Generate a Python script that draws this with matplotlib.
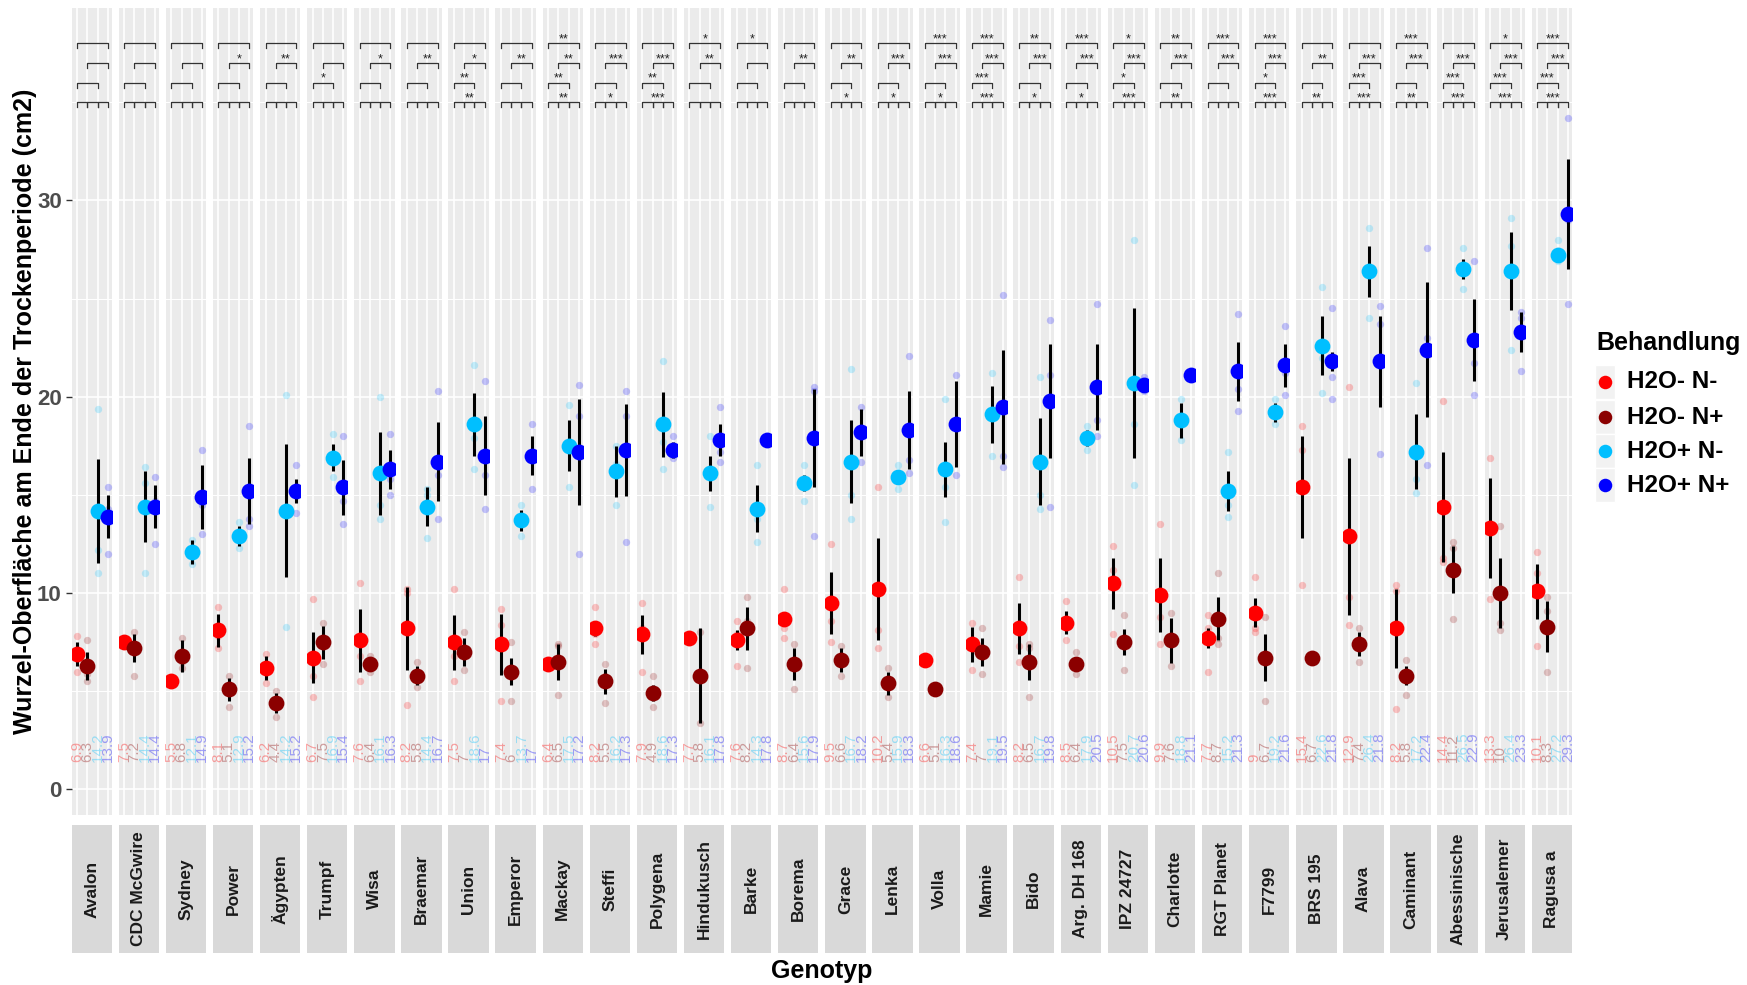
import matplotlib.pyplot as plt

plt.rcParams['font.family'] = ['Liberation Sans', 'DejaVu Sans']

genotypes = ["Avalon", "CDC McGwire", "Sydney", "Power", "Ägypten", "Trumpf", "Wisa",
             "Braemar", "Union", "Emperor", "Mackay", "Steffi", "Polygena", "Hindukusch",
             "Barke", "Borema", "Grace", "Lenka", "Volla", "Mamie", "Bido", "Arg. DH 168",
             "IPZ 24727", "Charlotte", "RGT Planet", "F7799", "BRS 195", "Alava", "Caminant",
             "Abessinische", "Jerusalemer", "Ragusa a"]
treatments = ["H2O- N-", "H2O- N+", "H2O+ N-", "H2O+ N+"]
colors = ["#FF0000", "#8B0000", "#00BFFF", "#0000FF"]

# Mittelwerte je Behandlung
m_nn = [6.9, 7.5, 5.5, 8.1, 6.2, 6.7, 7.6, 8.2, 7.5, 7.4, 6.4, 8.2, 7.9, 7.7, 7.6, 8.7,
        9.5, 10.2, 6.6, 7.4, 8.2, 8.5, 10.5, 9.9, 7.7, 9.0, 15.4, 12.9, 8.2, 14.4, 13.3, 10.1]
m_np = [6.3, 7.2, 6.8, 5.1, 4.4, 7.5, 6.4, 5.8, 7.0, 6.0, 6.5, 5.5, 4.9, 5.8, 8.2, 6.4,
        6.6, 5.4, 5.1, 7.0, 6.5, 6.4, 7.5, 7.6, 8.7, 6.7, 6.7, 7.4, 5.8, 11.2, 10.0, 8.3]
m_pn = [14.2, 14.4, 12.1, 12.9, 14.2, 16.9, 16.1, 14.4, 18.6, 13.7, 17.5, 16.2, 18.6, 16.1,
        14.3, 15.6, 16.7, 15.9, 16.3, 19.1, 16.7, 17.9, 20.7, 18.8, 15.2, 19.2, 22.6, 26.4,
        17.2, 26.5, 26.4, 27.2]
m_pp = [13.9, 14.4, 14.9, 15.2, 15.2, 15.4, 16.3, 16.7, 17.0, 17.0, 17.2, 17.3, 17.3, 17.8,
        17.8, 17.9, 18.2, 18.3, 18.6, 19.5, 19.8, 20.5, 20.6, 21.1, 21.3, 21.6, 21.8, 21.8,
        22.4, 22.9, 23.3, 29.3]

# Fehlerbalken (halbe Länge)
e_nn = [0.6, 0.2, 0.2, 0.85, 0.6, 1.3, 1.6, 2.1, 1.4, 1.55, 0.2, 0.4, 1.0, 0.1, 0.5, 0.3,
        1.6, 2.6, 0.1, 0.9, 1.3, 0.6, 1.3, 1.9, 0.5, 0.75, 2.6, 4.0, 2.0, 2.8, 2.55, 1.4]
e_np = [0.7, 0.7, 0.8, 0.6, 0.5, 0.85, 0.3, 0.5, 0.7, 0.7, 0.9, 0.65, 0.4, 2.4, 1.1, 0.8,
        0.6, 0.6, 0.1, 0.7, 0.9, 0.35, 0.65, 1.15, 1.1, 1.2, 0.1, 0.6, 0.5, 1.2, 1.8, 1.3]
e_pn = [2.65, 1.8, 0.6, 0.5, 3.4, 0.7, 2.1, 1.0, 1.6, 0.55, 1.3, 1.3, 1.65, 0.9, 1.2, 0.4,
        2.1, 0.3, 1.4, 1.45, 2.2, 0.4, 3.8, 0.9, 1.0, 0.5, 1.5, 1.3, 1.9, 0.5, 2.0, 0.2]
e_pp = [1.1, 1.1, 1.65, 1.7, 0.6, 1.4, 1.0, 2.0, 2.0, 1.0, 2.7, 2.35, 0.4, 0.8, 0.1, 2.5,
        1.2, 2.0, 2.2, 2.9, 2.9, 2.2, 0.2, 0.1, 1.5, 1.1, 0.5, 2.3, 3.45, 2.1, 1.0, 2.8]

# Einzelwerte der Wiederholungen
r_nn = [[7.8, 6.0, 6.8], [7.6, 7.4], [5.6, 5.4], [9.3, 7.2, 7.8], [6.9, 5.4, 6.3],
        [9.7, 4.7, 5.8], [10.5, 5.5, 6.8], [10.2, 4.3, 10.0], [10.2, 5.5, 6.8], [9.2, 4.5, 8.4],
        [6.6, 6.2], [9.3, 7.4, 7.9], [9.5, 6.0, 8.2], [7.9, 7.5], [8.6, 6.3, 7.9],
        [10.2, 7.7, 8.2], [12.5, 7.5, 8.6], [15.4, 7.2, 8.1], [6.7, 6.5], [8.5, 6.1, 7.6],
        [10.8, 6.5, 7.3], [9.6, 7.6, 8.4], [12.4, 7.9, 11.2], [13.5, 7.4, 8.8], [8.9, 6.0, 8.2],
        [10.8, 8.0, 8.2], [18.5, 10.4, 17.3], [20.5, 8.4, 9.8], [10.4, 4.1, 10.1],
        [19.8, 11.8, 11.6], [16.9, 9.7, 13.3], [12.1, 7.3, 11.0]]
r_np = [[7.6, 5.5, 5.9], [8.0, 5.8, 7.4], [7.7, 6.2, 6.5], [5.8, 4.2, 5.3], [5.0, 3.7, 4.5],
        [8.5, 6.4, 7.6], [6.8, 6.0], [6.5, 5.2, 5.7], [8.0, 6.1, 6.9], [7.5, 4.5, 6.0],
        [7.3, 4.8, 7.4], [6.4, 4.4, 5.8], [5.8, 4.2, 4.7], [8.0, 3.4, 6.0], [9.8, 6.2, 8.6],
        [7.4, 5.1, 6.6], [7.3, 5.8, 6.7], [6.2, 4.7, 5.3], [5.2, 5.0], [8.2, 5.9, 6.9],
        [7.4, 4.7, 7.2], [7.0, 5.9, 6.3], [8.9, 6.1, 7.5], [9.0, 6.3, 7.5], [11.0, 7.4, 7.7],
        [8.8, 4.5, 6.8], [6.8, 6.6], [8.2, 6.5, 7.5], [6.6, 4.8, 6.0], [12.6, 8.7, 12.3],
        [13.4, 8.1, 8.5], [9.8, 6.0, 9.1]]
r_pn = [[19.4, 11.0, 12.2], [16.4, 11.0, 15.6], [12.7, 11.5, 12.0], [13.6, 12.3],
        [20.1, 8.3, 14.2], [18.1, 15.9, 16.7], [20.0, 13.8, 14.5], [15.3, 12.8, 15.0],
        [21.6, 16.3, 17.9], [14.5, 12.9, 13.7], [19.6, 15.4, 17.5], [17.5, 14.5, 16.6],
        [21.8, 16.3, 17.7], [18.0, 14.4, 16.0], [16.5, 12.6, 13.8], [16.5, 14.7, 15.6],
        [21.4, 13.8, 15.0], [16.5, 15.3, 16.0], [19.9, 13.6, 15.4], [21.2, 17.0, 19.0],
        [21.0, 14.3, 15.0], [18.5, 17.3], [28.0, 15.5, 18.6], [19.9, 17.8, 18.7],
        [17.2, 13.9, 14.5], [19.9, 18.6, 19.1], [25.6, 20.2, 22.0], [28.6, 24.0, 26.6],
        [20.7, 15.1, 15.8], [27.6, 25.5, 26.4], [29.1, 22.4, 27.7], [28.0, 26.9]]
r_pp = [[15.4, 12.0, 14.3], [15.9, 12.5, 14.7], [17.3, 13.0, 14.5], [18.5, 13.4, 13.8],
        [16.5, 14.1, 15.0], [18.0, 13.5, 14.7], [18.1, 15.0, 15.8], [20.3, 13.8, 16.0],
        [20.8, 14.3, 16.0], [18.6, 15.3, 17.2], [20.6, 12.0, 19.0], [20.3, 12.6, 19.0],
        [18.0, 16.9], [19.5, 16.7, 17.2], [17.9], [20.5, 12.9, 20.3], [19.5, 16.7, 18.4],
        [22.1, 16.1, 16.8], [21.1, 16.0, 18.6], [25.2, 16.4, 17.0], [23.9, 14.4, 21.1],
        [24.7, 18.0, 18.8], [21.0, 20.3], [21.2, 21.0], [24.2, 19.3, 20.4], [23.6, 20.1, 21.2],
        [24.5, 19.9, 21.0], [24.6, 17.1, 23.7], [27.6, 16.5, 23.0], [26.9, 20.1, 21.7],
        [24.3, 21.3, 24.0], [34.2, 24.7, 29.0]]

# Signifikanzen der Paarvergleiche
sig_03 = ["", "", "", "", "", "", "", "", "", "", "**", "", "", "*", "*", "", "", "",
          "***", "***", "**", "***", "*", "**", "***", "***", "", "", "***", "", "*", "***"]
sig_13 = ["", "", "", "*", "**", "", "*", "**", "*", "**", "**", "***", "***", "**", "", "**",
          "**", "***", "***", "***", "***", "***", "***", "***", "***", "***", "**", "***",
          "***", "***", "***", "***"]
sig_02 = ["", "", "", "", "", "*", "", "", "**", "", "**", "", "**", "", "", "", "", "", "",
          "***", "", "", "*", "", "", "*", "", "***", "", "***", "***", "***"]
sig_12 = ["", "", "", "", "", "", "", "", "**", "", "**", "*", "***", "", "", "", "*", "*",
          "*", "***", "*", "*", "***", "**", "", "***", "**", "***", "**", "***", "***", "***"]

means = [m_nn, m_np, m_pn, m_pp]
errs = [e_nn, e_np, e_pn, e_pp]
reps = [r_nn, r_np, r_pn, r_pp]

W, H = 1747, 985
fig = plt.figure(figsize=(W / 100, H / 100), dpi=100)

x0, pitch, pw = 71.5, 47.1, 40.4
p_top, p_bot = 8, 815
s_top, s_bot = 825, 953


def bracket(ax, x1, x2, y, label):
    ax.plot([x1, x1, x2, x2], [y - 0.25, y, y, y - 0.25], color="#333333", lw=0.9,
            zorder=5, clip_on=False)
    if label:
        ax.text((x1 + x2) / 2, y + 0.05, label, ha="center", va="baseline",
                fontsize=9, color="#222222", zorder=6)


for i, g in enumerate(genotypes):
    left = x0 + i * pitch
    ax = fig.add_axes([left / W, 1 - p_bot / H, pw / W, (p_bot - p_top) / H])
    ax.set_facecolor("#EBEBEB")
    ax.set_xlim(-0.55, 3.4)
    ax.set_ylim(-1.3, 39.8)
    for s in ax.spines.values():
        s.set_visible(False)
    for yv in [5, 15, 25, 35]:
        ax.axhline(yv, color="white", lw=0.7, zorder=0)
    for yv in [0, 10, 20, 30]:
        ax.axhline(yv, color="white", lw=1.2, zorder=0)
    for xv in range(4):
        ax.axvline(xv, color="white", lw=1.2, zorder=0)
    ax.set_xticks([])
    if i == 0:
        ax.set_yticks([0, 10, 20, 30])
        ax.tick_params(axis="y", length=4, width=1, color="#333333", labelsize=16,
                       labelcolor="#4D4D4D", pad=3)
        for lab in ax.get_yticklabels():
            lab.set_fontweight("bold")
    else:
        ax.set_yticks([])

    for k in range(4):
        vals = reps[k][i]
        ax.scatter([k] * len(vals), vals, s=28, color=colors[k], alpha=0.22, lw=0, zorder=2)
        m, e = means[k][i], errs[k][i]
        ax.vlines(k, m - e, m + e, color="black", lw=2.2, zorder=3)
        ax.scatter([k], [m], s=130, color=colors[k], lw=0, zorder=4)
        ax.text(k, 1.4, f"{m:g}", rotation=90, rotation_mode="anchor", ha="left",
                va="center", color=colors[k], alpha=0.35, fontsize=11, zorder=3)

    bracket(ax, 0, 3, 38.0, sig_03[i])
    bracket(ax, 1, 3, 37.0, sig_13[i])
    bracket(ax, 0, 2, 36.0, sig_02[i])
    bracket(ax, 0, 1, 35.0, "")
    bracket(ax, 2, 3, 35.0, "")
    bracket(ax, 1, 2, 35.0, sig_12[i])

    sax = fig.add_axes([left / W, 1 - s_bot / H, pw / W, (s_bot - s_top) / H])
    sax.set_facecolor("#D9D9D9")
    sax.set_xticks([])
    sax.set_yticks([])
    for s in sax.spines.values():
        s.set_visible(False)
    sax.text(0.5, 0.5, g, rotation=90, ha="center", va="center", fontsize=12.5,
             fontweight="bold", color="#1A1A1A", transform=sax.transAxes)

# Achsentitel und Legende in Pixelkoordinaten
lax = fig.add_axes([0, 0, 1, 1])
lax.set_xlim(0, W)
lax.set_ylim(H, 0)
lax.axis("off")
lax.text(822, 971, "Genotyp", ha="center", va="center", fontsize=18, fontweight="bold")
lax.text(25, 411, "Wurzel-Oberfläche am Ende der Trockenperiode (cm2)", rotation=90,
         ha="center", va="center", fontsize=18, fontweight="bold")

lax.text(1596, 343, "Behandlung", ha="left", va="center", fontsize=18, fontweight="bold")
key_y = [382, 417, 451, 485]
for lbl, c, ky in zip(treatments, colors, key_y):
    lax.add_patch(plt.Rectangle((1595, ky - 17), 20, 34, facecolor="#F2F2F2",
                                edgecolor="white", lw=1))
    lax.scatter([1605], [ky], s=95, color=c, lw=0)
    lax.text(1627, ky, lbl, ha="left", va="center", fontsize=17.5, fontweight="bold")

fig.savefig("out.png", dpi=100)
